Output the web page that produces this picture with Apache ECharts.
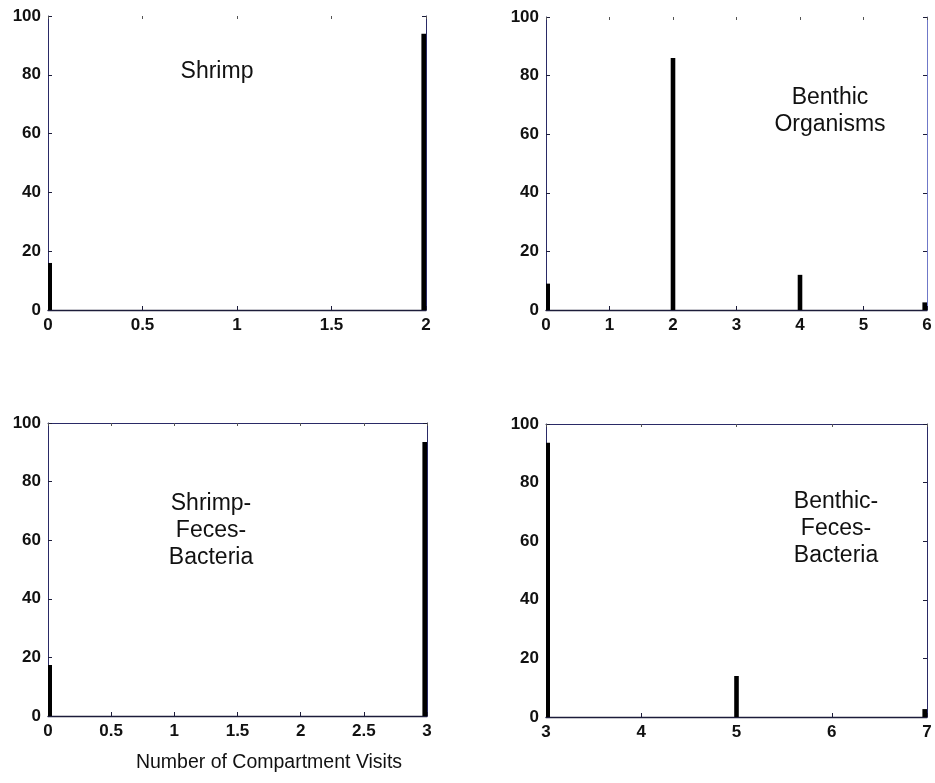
<!DOCTYPE html>
<html><head><meta charset="utf-8">
<script src="https://cdn.jsdelivr.net/npm/echarts@6/dist/echarts.min.js"></script>
<style>html,body{margin:0;padding:0;background:#fff}#c{width:935px;height:783px}</style>
</head><body><div id="c"></div>
<script>
// ---- data ----
const shrimpX = [0, 2];
const shrimpY = [16, 94];
const benthicX = [0, 2, 4, 6];
const benthicY = [9, 86, 12, 2.6];
const sfbX = [0, 3];
const sfbY = [17.4, 93.5];
const bfbX = [3, 5, 7];
const bfbY = [93.6, 14, 2.7];
const panelLabels = ["Shrimp", "Benthic\nOrganisms", "Shrimp-\nFeces-\nBacteria", "Benthic-\nFeces-\nBacteria"];
const xAxisTitle = "Number of Compartment Visits";
const xRanges = [[0, 2, 0.5], [0, 6, 1], [0, 3, 0.5], [3, 7, 1]];
const yRange = [0, 100, 20];

const FONT = '"Liberation Sans", Arial, sans-serif';
const AX = '#1c1c3a';
const grids = [
  {left: 48, top: 16, width: 378, height: 294},
  {left: 546, top: 17, width: 381, height: 293},
  {left: 48, top: 423, width: 379, height: 293},
  {left: 546, top: 424, width: 381, height: 293}
];
const seriesData = [[shrimpX, shrimpY], [benthicX, benthicY], [sfbX, sfbY], [bfbX, bfbY]];
const BAR_W = 4.6;
const EDGE_W = 4;

const xAxes = [], yAxes = [], series = [];
grids.forEach((g, i) => {
  const [mn, mx, iv] = xRanges[i];
  const topFaint = i < 2;
  xAxes.push({type: 'value', gridIndex: i, min: mn, max: mx, interval: iv, position: 'bottom',
    axisLine: {show: true, onZero: false, lineStyle: {color: AX, width: 1.3}},
    axisTick: {show: true, inside: true, length: 4, lineStyle: {color: AX}},
    axisLabel: {show: true, color: '#111', fontFamily: FONT, fontSize: 17, fontWeight: 'bold', margin: 7},
    splitLine: {show: false}});
  xAxes.push({type: 'value', gridIndex: i, min: mn, max: mx, interval: iv, position: 'top',
    axisLine: {show: !topFaint, onZero: false, lineStyle: {color: '#2a2a66', width: 1}},
    axisTick: {show: true, inside: true, length: 3, lineStyle: {color: '#555'}},
    axisLabel: {show: false}, splitLine: {show: false}});
  yAxes.push({type: 'value', gridIndex: i, min: yRange[0], max: yRange[1], interval: yRange[2], position: 'left',
    axisLine: {show: true, onZero: false, lineStyle: {color: '#2a2a66', width: 1}},
    axisTick: {show: true, inside: true, length: 4, lineStyle: {color: AX}},
    axisLabel: {show: true, color: '#111', fontFamily: FONT, fontSize: 17, fontWeight: 'bold', margin: 7},
    splitLine: {show: false}});
  yAxes.push({type: 'value', gridIndex: i, min: yRange[0], max: yRange[1], interval: yRange[2], position: 'right',
    axisLine: {show: true, onZero: false, lineStyle: {color: i === 1 ? '#6f78c8' : '#2a2a66', width: 1}},
    axisTick: {show: true, inside: true, length: 4, lineStyle: {color: AX}},
    axisLabel: {show: false}, splitLine: {show: false}});
  const [xs, ys] = seriesData[i];
  series.push({type: 'custom', xAxisIndex: i * 2, yAxisIndex: i * 2, silent: true, z: 1,
    data: xs.map((x, k) => [x, ys[k]]),
    renderItem: function (params, api) {
      const p = api.coord([api.value(0), api.value(1)]);
      const b = api.coord([api.value(0), 0]);
      const cs = params.coordSys;
      let w = BAR_W, x0 = p[0] - w / 2;
      if (x0 < cs.x) { w = EDGE_W; x0 = cs.x; }
      if (x0 + w > cs.x + cs.width) { x0 = cs.x + cs.width - w; }
      return {type: 'rect', shape: {x: x0, y: p[1], width: w, height: b[1] - p[1]}, style: {fill: '#000'}};
    }});
});

const textPos = [[217, 72], [830, 111], [211, 531], [836, 529]];
const graphic = panelLabels.map((t, i) => ({
  type: 'text', x: textPos[i][0], y: textPos[i][1],
  style: {text: t, font: '23px ' + FONT, fill: '#111', textAlign: 'center', textVerticalAlign: 'middle', lineHeight: 27}
}));
graphic.push({type: 'text', x: 269, y: 763,
  style: {text: xAxisTitle, font: '19.5px ' + FONT, fill: '#111', textAlign: 'center', textVerticalAlign: 'middle'}});

const chart = echarts.init(document.getElementById('c'));
chart.setOption({animation: false, backgroundColor: '#fff', grid: grids, xAxis: xAxes, yAxis: yAxes, series, graphic});
</script></body></html>
